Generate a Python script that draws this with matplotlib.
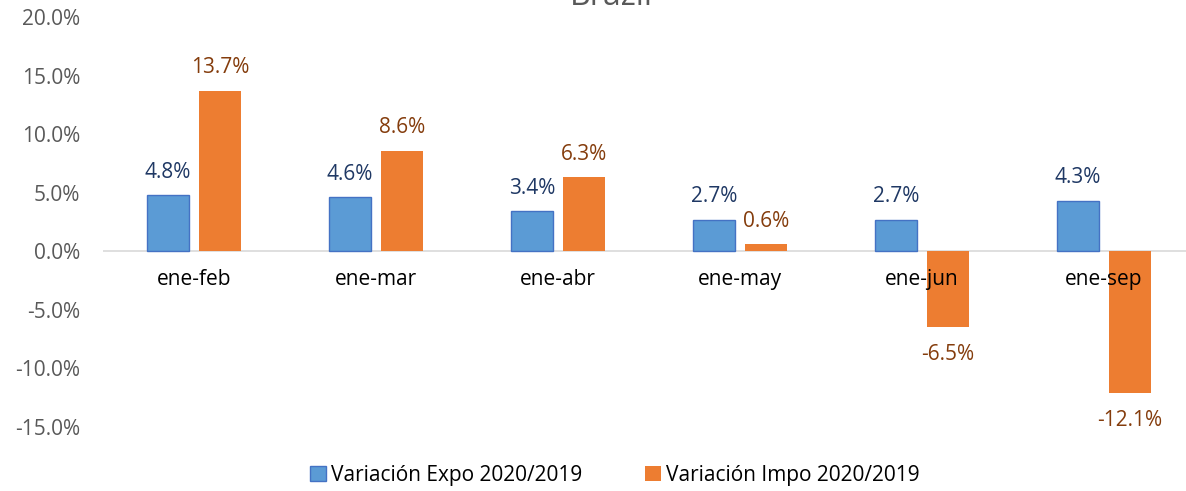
"""Brazil: variación expo / impo 2020 vs 2019, bar chart."""

import numpy as np
import matplotlib.pyplot as plt
from matplotlib.ticker import FuncFormatter

plt.rcParams["font.family"] = ["Open Sans", "DejaVu Sans"]

periods = ["ene-feb", "ene-mar", "ene-abr", "ene-may", "ene-jun", "ene-sep"]
expo = [4.8, 4.6, 3.4, 2.7, 2.7, 4.3]
impo = [13.7, 8.6, 6.3, 0.6, -6.5, -12.1]
series_names = ["Variación Expo 2020/2019", "Variación Impo 2020/2019"]

BLUE, BLUE_EDGE = "#5B9BD5", "#4472C4"
ORANGE = "#ED7D31"
BLUE_TXT, ORANGE_TXT = "#1F3864", "#843C0C"
GRAY = "#595959"
FS = 15

fig = plt.figure(figsize=(11.86, 4.91), dpi=100)
ax = fig.add_axes([103 / 1186, 64 / 491, 1083 / 1186, 410 / 491])

x = np.arange(len(periods))
w = 0.23
off = 0.143
b1 = ax.bar(x - off, expo, w, color=BLUE, edgecolor=BLUE_EDGE, linewidth=1,
            label=series_names[0])
b2 = ax.bar(x + off, impo, w, color=ORANGE, label=series_names[1])

for xi, v in zip(x, expo):
    ax.annotate(f"{v:.1f}%", (xi - off, v), xytext=(0, 9), textcoords="offset points",
                ha="center", va="bottom", fontsize=FS, color=BLUE_TXT)
for xi, v in zip(x, impo):
    dy = 9 if v >= 0 else -12
    ax.annotate(f"{v:.1f}%", (xi + off, v), xytext=(0, dy), textcoords="offset points",
                ha="center", va="bottom" if v >= 0 else "top", fontsize=FS, color=ORANGE_TXT)

# category labels sit just below the zero line
for xi, name in zip(x, periods):
    ax.annotate(name, (xi, 0), xytext=(0, -13), textcoords="offset points",
                ha="center", va="top", fontsize=FS, color="black")

ax.axhline(0, color="#D9D9D9", linewidth=1.2, zorder=0)
ax.set_xlim(-0.5, 5.45)
ax.set_ylim(-15, 20)
ax.set_yticks(np.arange(-15, 21, 5))
ax.yaxis.set_major_formatter(FuncFormatter(lambda v, _: f"{v:.1f}%"))
ax.tick_params(axis="y", length=0, labelsize=FS, labelcolor=GRAY, pad=16.5)
ax.set_xticks([])
for s in ax.spines.values():
    s.set_visible(False)

fig.text(611 / 1186, 1 - 5 / 491, "Brazil", ha="center", va="baseline",
         fontsize=23, color=GRAY)

fig.legend(handles=[b1, b2], loc="center", bbox_to_anchor=(615 / 1186, 16 / 491),
           ncol=2, frameon=False, fontsize=FS, handlelength=0.75, handleheight=0.75,
           handletextpad=0.25, columnspacing=3)

fig.savefig("out.png", dpi=100)
